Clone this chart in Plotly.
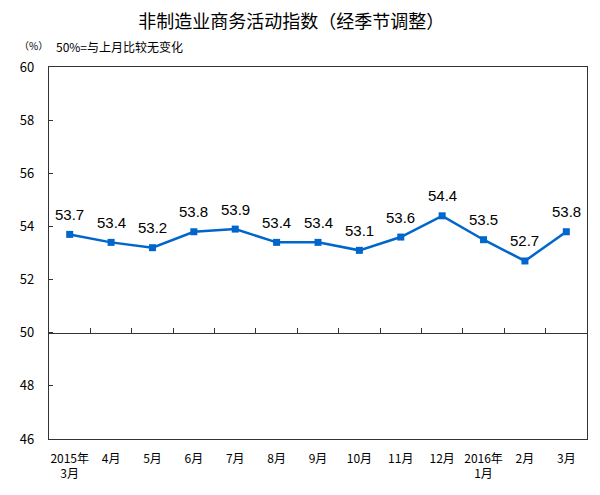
import plotly.graph_objects as go

categories = ["2015年<br>3月", "4月", "5月", "6月", "7月", "8月", "9月", "10月",
              "11月", "12月", "2016年<br>1月", "2月", "3月"]
values = [53.7, 53.4, 53.2, 53.8, 53.9, 53.4, 53.4, 53.1, 53.6, 54.4, 53.5, 52.7, 53.8]
y_ticks = [46, 48, 50, 52, 54, 56, 58, 60]

title = "非制造业商务活动指数（经季节调整）"
unit = "（%）"
note = "50%=与上月比较无变化"

CJK = "Noto Sans CJK SC"
x_idx = list(range(len(categories)))
boundaries = [i + 0.5 for i in range(len(categories) - 1)]

fig = go.Figure()
fig.add_trace(go.Scatter(
    x=x_idx, y=values, mode="lines+markers",
    line=dict(color="#0066CC", width=2.5),
    marker=dict(symbol="square", size=7, color="#0066CC"),
    hoverinfo="skip", showlegend=False,
))
# helper trace to activate the middle axis (baseline at 50)
fig.add_trace(go.Scatter(
    x=[x_idx[0]], y=[values[0]], xaxis="x2", yaxis="y",
    mode="markers", marker=dict(opacity=0), hoverinfo="skip", showlegend=False,
))

for xi, v in zip(x_idx, values):
    fig.add_annotation(x=xi, y=v, text=f"{v:.1f}", showarrow=False,
                       yshift=20, font=dict(family="Arial", size=15, color="#000000"))

fig.add_annotation(xref="paper", yref="paper", x=-0.059, y=1.059, xanchor="left",
                   yanchor="middle", text=unit, showarrow=False,
                   font=dict(family=CJK, size=10, color="#000000"))
fig.add_annotation(xref="paper", yref="paper", x=0.009, y=1.054, xanchor="left",
                   yanchor="middle", text=note, showarrow=False,
                   font=dict(family=CJK, size=12, color="#000000"))

fig.update_layout(
    width=600, height=495,
    margin=dict(l=34, r=21, t=59, b=64),
    paper_bgcolor="white", plot_bgcolor="white",
    title=dict(text=title, x=0.472, xanchor="center", y=0.972, yanchor="middle",
               font=dict(family=CJK, size=18, color="#000000")),
    xaxis=dict(
        range=[-0.5, len(categories) - 0.5],
        tickmode="array", tickvals=x_idx, ticktext=categories,
        showgrid=False, zeroline=False, ticks="",
        showline=True, linecolor="#333333", linewidth=1.2, mirror=True,
        tickfont=dict(family=CJK, size=12, color="#000000"),
        ticklabelstandoff=8,
    ),
    xaxis2=dict(
        overlaying="x", matches="x", anchor="free",
        position=(50 - 46) / (60 - 46),
        range=[-0.5, len(categories) - 0.5],
        tickmode="array", tickvals=boundaries,
        ticks="inside", ticklen=5, tickcolor="#333333", tickwidth=1.2,
        showticklabels=False, showgrid=False, zeroline=False,
        showline=True, linecolor="#333333", linewidth=1.2,
    ),
    yaxis=dict(
        range=[46, 60], tickmode="array", tickvals=y_ticks,
        showgrid=False, zeroline=False,
        ticks="inside", ticklen=4, tickcolor="#333333", tickwidth=1.2,
        showline=True, linecolor="#333333", linewidth=1.2, mirror=True,
        tickfont=dict(family=CJK, size=13, color="#000000"),
        ticklabelstandoff=11,
    ),
)

fig.write_html("out.html")
